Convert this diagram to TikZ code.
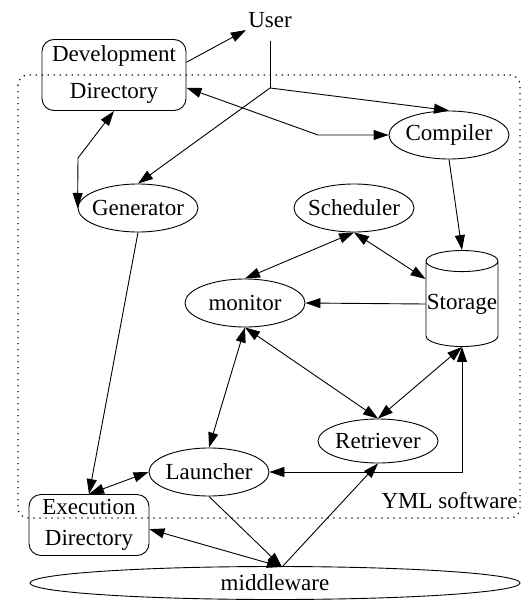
\documentclass[tikz,border=0pt]{standalone}
\usepackage{fontspec}
\setmainfont{Liberation Serif}
\usetikzlibrary{arrows.meta,calc,shapes.geometric}

\begin{document}
\begin{tikzpicture}[x=1pt,y=-1pt,line width=0.9pt,
        >={Triangle[length=15pt,width=10pt]},
        every node/.style={font=\fontsize{23}{32}\selectfont},
        proc/.style={draw,ellipse,inner xsep=-4pt,inner ysep=0pt,minimum width=120pt,minimum height=48pt},
        dir/.style={draw,rounded corners=12pt,align=center,inner sep=0pt},
        yml/.style={line width=1.2pt,dash pattern=on 1.2pt off 4.8pt,rounded corners=10pt}]
        \useasboundingbox (0,0) rectangle (525,602);
        \draw[yml] (18,75) rectangle (520,518);
        \node[inner sep=2pt] (user) at (270,20) {User};
        \node[dir,minimum width=144pt,minimum height=71pt] (devdir) at (114,75) {Development\\[5pt]Directory};
        \node[proc] (compiler) at (449,135) {Compiler};
        \node[proc] (generator) at (138,208) {Generator};
        \node[proc] (scheduler) at (354,208) {Scheduler};
        \node[proc] (monitor) at (245,303) {monitor};
        \node[draw,cylinder,shape border rotate=90,aspect=0.3,inner sep=0pt,minimum width=72pt,minimum height=96pt] (storage) at (462,304) {Storage};
        \node[proc,minimum height=44pt] (retriever) at (378,441) {Retriever};
        \node[proc] (launcher) at (209,472) {Launcher};
        \node[dir,minimum width=120pt,minimum height=61pt] (execdir) at (89,525) {Execution\\[-1pt]Directory};
        \node[proc,minimum width=490pt,minimum height=33pt] (middleware) at (275,583) {middleware};
        \node[anchor=base east,inner sep=0pt] (yml) at (518,508) {YML software};
        \coordinate (split) at (270,88);
        \coordinate (cbend) at (318,135);
        \coordinate (gbend) at (78,158);
        \coordinate (sbend) at (462,472);
        \coordinate (mwtop) at (282,567);
        \draw[->] (devdir.10) -- (user.south west);
        \draw ($(user.south)+(0,11)$) -- (split);
        \draw[->] (split) -- (compiler.north);
        \draw[->] (split) -- (generator.north);
        \draw[<->] (devdir.-10) -- (cbend) -- (compiler.west);
        \draw[<->] (devdir.south) -- (gbend) -- (generator.west);
        \draw[->] (generator.south) -- (execdir.north);
        \draw[->] (compiler.south) -- (storage.north);
        \draw[<->] (scheduler.south) -- (monitor.north);
        \draw[<->] (scheduler.south) -- ($(storage.west)+(0,-25)$);
        \draw[->] (storage.west) -- (monitor.east);
        \draw[<->] (monitor.south) -- (retriever.north);
        \draw[<->] (storage.south) -- (retriever.north);
        \draw[<->] (monitor.south) -- (launcher.north);
        \draw[<->] (launcher.east) -- (sbend) -- (storage.south);
        \draw[<->] (launcher.west) -- (execdir.north);
        \draw[->] (launcher.south) -- (mwtop);
        \draw[<->] (execdir.-4) -- (mwtop);
        \draw[->] (mwtop) -- (retriever.south);
      \end{tikzpicture}
\end{document}
